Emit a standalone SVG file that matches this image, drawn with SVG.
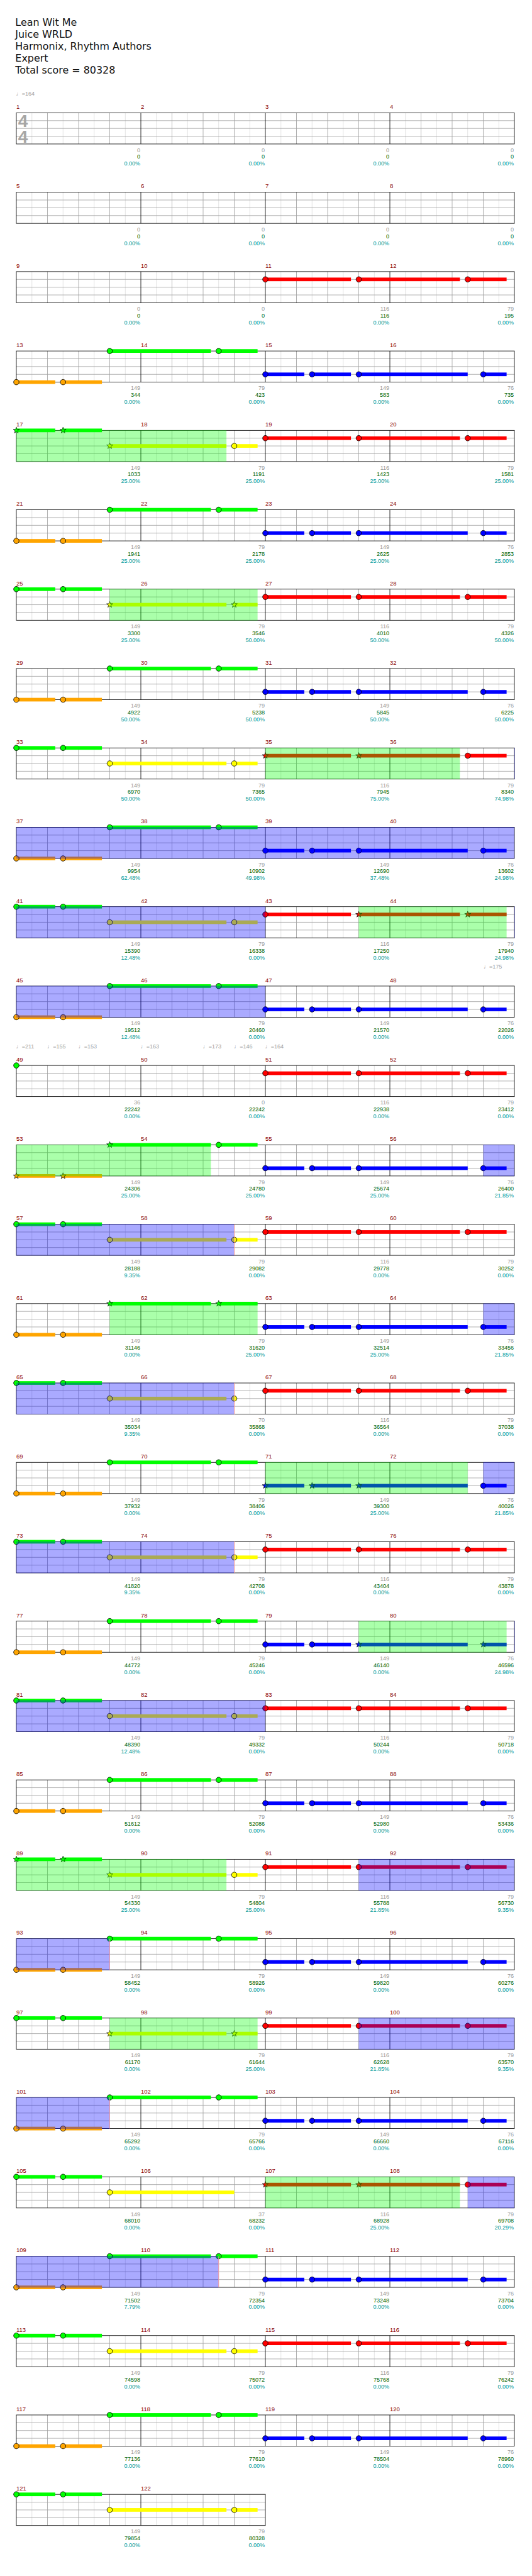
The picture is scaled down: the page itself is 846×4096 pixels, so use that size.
<svg xmlns="http://www.w3.org/2000/svg" width="846" height="4096" viewBox="0 0 846 4096">
<style>
.t{font-family:"DejaVu Sans",sans-serif;font-size:19.3px;fill:#111}
.mn{font-family:"Liberation Sans",Arial,sans-serif;font-size:11.5px;fill:#8b0000}
.n{font-family:"Liberation Sans",Arial,sans-serif;font-size:11px;text-anchor:end}
.g{fill:#999}.s{fill:#006400}.p{fill:#009999}
.tp{font-family:"Liberation Sans","DejaVu Sans",sans-serif;font-size:11px;fill:#a0a0a0}
.ts{font-family:"Liberation Sans",Arial,sans-serif;font-weight:bold;font-size:34px;fill:#a6a6a6}
.ho{fill:#0f0;opacity:.333}.bo{fill:#00f;opacity:.333}
.rl{stroke:#f99;stroke-width:1}
</style>
<defs>
<path id="st" d="M0-6.2L1.47-2.02 5.9-1.92 2.38.77 3.64 5.02 0 2.5-3.64 5.02-2.38.77-5.9-1.92-1.47-2.02Z" stroke="#000" stroke-width=".8"/>
<g id="g4" fill="none">
<path d="M30 0V60M90 0V60M150 0V60M210 0V60M270 0V60M330 0V60M390 0V60M450 0V60M510 0V60M570 0V60M630 0V60M690 0V60M750 0V60M810 0V60M870 0V60M930 0V60" stroke="#dcdcdc"/>
<path d="M0 15H960M0 30H960M0 45H960M60 0V60M120 0V60M180 0V60M300 0V60M360 0V60M420 0V60M540 0V60M600 0V60M660 0V60M780 0V60M840 0V60M900 0V60" stroke="#a0a0a0"/>
<path d="M240 0V60M480 0V60M720 0V60" stroke="#000"/>
<rect width="960" height="60" stroke="#000"/>
</g>
<g id="g2" fill="none">
<path d="M30 0V60M90 0V60M150 0V60M210 0V60M270 0V60M330 0V60M390 0V60M450 0V60" stroke="#dcdcdc"/>
<path d="M0 15H480M0 30H480M0 45H480M60 0V60M120 0V60M180 0V60M300 0V60M360 0V60M420 0V60" stroke="#a0a0a0"/>
<path d="M240 0V60" stroke="#000"/>
<rect width="480" height="60" stroke="#000"/>
</g>
<g id="p1b">
<rect x="0" y="56.5" width="75" height="7" fill="#ffa500"/><rect x="90" y="56.5" width="75" height="7" fill="#ffa500"/>
<rect x="180" y="-3.5" width="195" height="7" fill="#0f0"/><rect x="390" y="-3.5" width="75" height="7" fill="#0f0"/>
</g>
<g id="p1h" stroke="#000">
<circle cx="0" cy="60" r="5.2" fill="#ffa500"/><circle cx="90" cy="60" r="5.2" fill="#ffa500"/>
<circle cx="180" cy="0" r="5.2" fill="#0f0"/><circle cx="390" cy="0" r="5.2" fill="#0f0"/>
</g>
<g id="p2b">
<rect x="0" y="-3.5" width="75" height="7" fill="#0f0"/><rect x="90" y="-3.5" width="75" height="7" fill="#0f0"/>
<rect x="180" y="26.5" width="225" height="7" fill="#ff0"/><rect x="420" y="26.5" width="45" height="7" fill="#ff0"/>
</g>
<g id="p2h" stroke="#000">
<circle cx="0" cy="0" r="5.2" fill="#0f0"/><circle cx="90" cy="0" r="5.2" fill="#0f0"/>
<circle cx="180" cy="30" r="5.2" fill="#ff0"/><circle cx="420" cy="30" r="5.2" fill="#ff0"/>
</g>
<g id="q1b" fill="#f00">
<rect x="480" y="11.5" width="165" height="7"/><rect x="660" y="11.5" width="195" height="7"/><rect x="870" y="11.5" width="75" height="7"/>
</g>
<g id="q1h" stroke="#000" fill="#f00">
<circle cx="480" cy="15" r="5.2"/><circle cx="660" cy="15" r="5.2"/><circle cx="870" cy="15" r="5.2"/>
</g>
<g id="q2b" fill="#00f">
<rect x="480" y="41.5" width="75" height="7"/><rect x="570" y="41.5" width="75" height="7"/><rect x="660" y="41.5" width="210" height="7"/><rect x="900" y="41.5" width="45" height="7"/>
</g>
<g id="q2h" stroke="#000" fill="#00f">
<circle cx="480" cy="45" r="5.2"/><circle cx="570" cy="45" r="5.2"/><circle cx="660" cy="45" r="5.2"/><circle cx="900" cy="45" r="5.2"/>
</g>
</defs>
<rect width="846" height="4096" fill="#fff"/>
<g transform="scale(0.825)">
<g id="header">
<text class="t" x="29.5" y="49.3">Lean Wit Me</text>
<text class="t" x="29.5" y="72.4">Juice WRLD</text>
<text class="t" x="29.5" y="95.5">Harmonix, Rhythm Authors</text>
<text class="t" x="29.5" y="118.6">Expert</text>
<text class="t" x="29.5" y="141.7">Total score = 80328</text>
</g>
<g id="tempos" class="tp">
<text x="31" y="184">♩=164</text>
<text x="932" y="1867">♩=175</text>
<text x="31" y="2020">♩=211</text>
<text x="91" y="2020">♩=155</text>
<text x="151" y="2020">♩=153</text>
<text x="271" y="2020">♩=163</text>
<text x="391" y="2020">♩=173</text>
<text x="451" y="2020">♩=146</text>
<text x="511" y="2020">♩=164</text>
</g>
<g id="connectors"/>

<g id="row1" transform="translate(31.5 217.5)">
<use href="#g4"/>
<text class="ts" x="3.5" y="27.5">4</text><text class="ts" x="3.5" y="57.5">4</text>
<g class="mn"><text x="0" y="-7.5">1</text><text x="240" y="-7.5">2</text><text x="480" y="-7.5">3</text><text x="720" y="-7.5">4</text></g>
<g class="n g" transform="translate(0 75.5)"><text x="239">0</text><text x="479">0</text><text x="719">0</text><text x="959">0</text></g>
<g class="n s" transform="translate(0 88.5)"><text x="239">0</text><text x="479">0</text><text x="719">0</text><text x="959">0</text></g>
<g class="n p" transform="translate(0 101.8)"><text x="239">0.00%</text><text x="479">0.00%</text><text x="719">0.00%</text><text x="959">0.00%</text></g>
</g>

<g id="row5" transform="translate(31.5 370.5)">
<use href="#g4"/>
<g class="mn"><text x="0" y="-7.5">5</text><text x="240" y="-7.5">6</text><text x="480" y="-7.5">7</text><text x="720" y="-7.5">8</text></g>
<g class="n g" transform="translate(0 75.5)"><text x="239">0</text><text x="479">0</text><text x="719">0</text><text x="959">0</text></g>
<g class="n s" transform="translate(0 88.5)"><text x="239">0</text><text x="479">0</text><text x="719">0</text><text x="959">0</text></g>
<g class="n p" transform="translate(0 101.8)"><text x="239">0.00%</text><text x="479">0.00%</text><text x="719">0.00%</text><text x="959">0.00%</text></g>
</g>

<g id="row9" transform="translate(31.5 523.5)">
<use href="#g4"/><use href="#q1b"/><use href="#q1h"/>
<g class="mn"><text x="0" y="-7.5">9</text><text x="240" y="-7.5">10</text><text x="480" y="-7.5">11</text><text x="720" y="-7.5">12</text></g>
<g class="n g" transform="translate(0 75.5)"><text x="239">0</text><text x="479">0</text><text x="719">116</text><text x="959">79</text></g>
<g class="n s" transform="translate(0 88.5)"><text x="239">0</text><text x="479">0</text><text x="719">116</text><text x="959">195</text></g>
<g class="n p" transform="translate(0 101.8)"><text x="239">0.00%</text><text x="479">0.00%</text><text x="719">0.00%</text><text x="959">0.00%</text></g>
</g>

<g id="row13" transform="translate(31.5 676.5)">
<use href="#g4"/><use href="#p1b"/><use href="#p1h"/><use href="#q2b"/><use href="#q2h"/>
<g class="mn"><text x="0" y="-7.5">13</text><text x="240" y="-7.5">14</text><text x="480" y="-7.5">15</text><text x="720" y="-7.5">16</text></g>
<g class="n g" transform="translate(0 75.5)"><text x="239">149</text><text x="479">79</text><text x="719">149</text><text x="959">76</text></g>
<g class="n s" transform="translate(0 88.5)"><text x="239">344</text><text x="479">423</text><text x="719">583</text><text x="959">735</text></g>
<g class="n p" transform="translate(0 101.8)"><text x="239">0.00%</text><text x="479">0.00%</text><text x="719">0.00%</text><text x="959">0.00%</text></g>
</g>

<g id="row17" transform="translate(31.5 829.5)">
<use href="#g4"/><use href="#p2b"/>
<use href="#st" x="0" y="0" fill="#0f0"/><use href="#st" x="90" y="0" fill="#0f0"/><use href="#st" x="180" y="30" fill="#ff0"/><circle cx="420" cy="30" r="5.2" fill="#ff0" stroke="#000"/>
<use href="#q1b"/><use href="#q1h"/>
<rect class="ho" x="0" y="-.5" width="405" height="61"/>
<g class="mn"><text x="0" y="-7.5">17</text><text x="240" y="-7.5">18</text><text x="480" y="-7.5">19</text><text x="720" y="-7.5">20</text></g>
<g class="n g" transform="translate(0 75.5)"><text x="239">149</text><text x="479">79</text><text x="719">116</text><text x="959">79</text></g>
<g class="n s" transform="translate(0 88.5)"><text x="239">1033</text><text x="479">1191</text><text x="719">1423</text><text x="959">1581</text></g>
<g class="n p" transform="translate(0 101.8)"><text x="239">25.00%</text><text x="479">25.00%</text><text x="719">25.00%</text><text x="959">25.00%</text></g>
</g>

<g id="row21" transform="translate(31.5 982.5)">
<use href="#g4"/><use href="#p1b"/><use href="#p1h"/><use href="#q2b"/><use href="#q2h"/>
<g class="mn"><text x="0" y="-7.5">21</text><text x="240" y="-7.5">22</text><text x="480" y="-7.5">23</text><text x="720" y="-7.5">24</text></g>
<g class="n g" transform="translate(0 75.5)"><text x="239">149</text><text x="479">79</text><text x="719">149</text><text x="959">76</text></g>
<g class="n s" transform="translate(0 88.5)"><text x="239">1941</text><text x="479">2178</text><text x="719">2625</text><text x="959">2853</text></g>
<g class="n p" transform="translate(0 101.8)"><text x="239">25.00%</text><text x="479">25.00%</text><text x="719">25.00%</text><text x="959">25.00%</text></g>
</g>

<g id="row25" transform="translate(31.5 1135.5)">
<use href="#g4"/><use href="#p2b"/>
<circle cx="0" cy="0" r="5.2" fill="#0f0" stroke="#000"/><circle cx="90" cy="0" r="5.2" fill="#0f0" stroke="#000"/><use href="#st" x="180" y="30" fill="#ff0"/><use href="#st" x="420" y="30" fill="#ff0"/>
<use href="#q1b"/><use href="#q1h"/>
<rect class="ho" x="180" y="-.5" width="285" height="61"/>
<g class="mn"><text x="0" y="-7.5">25</text><text x="240" y="-7.5">26</text><text x="480" y="-7.5">27</text><text x="720" y="-7.5">28</text></g>
<g class="n g" transform="translate(0 75.5)"><text x="239">149</text><text x="479">79</text><text x="719">116</text><text x="959">79</text></g>
<g class="n s" transform="translate(0 88.5)"><text x="239">3300</text><text x="479">3546</text><text x="719">4010</text><text x="959">4326</text></g>
<g class="n p" transform="translate(0 101.8)"><text x="239">25.00%</text><text x="479">50.00%</text><text x="719">50.00%</text><text x="959">50.00%</text></g>
</g>

<g id="row29" transform="translate(31.5 1288.5)">
<use href="#g4"/><use href="#p1b"/><use href="#p1h"/><use href="#q2b"/><use href="#q2h"/>
<g class="mn"><text x="0" y="-7.5">29</text><text x="240" y="-7.5">30</text><text x="480" y="-7.5">31</text><text x="720" y="-7.5">32</text></g>
<g class="n g" transform="translate(0 75.5)"><text x="239">149</text><text x="479">79</text><text x="719">149</text><text x="959">76</text></g>
<g class="n s" transform="translate(0 88.5)"><text x="239">4922</text><text x="479">5238</text><text x="719">5845</text><text x="959">6225</text></g>
<g class="n p" transform="translate(0 101.8)"><text x="239">50.00%</text><text x="479">50.00%</text><text x="719">50.00%</text><text x="959">50.00%</text></g>
</g>

<g id="row33" transform="translate(31.5 1441.5)">
<use href="#g4"/><use href="#p2b"/><use href="#p2h"/><use href="#q1b"/>
<use href="#st" x="480" y="15" fill="#f00"/><use href="#st" x="660" y="15" fill="#f00"/><circle cx="870" cy="15" r="5.2" fill="#f00" stroke="#000"/>
<rect class="ho" x="480" y="-.5" width="375" height="61"/><rect class="bo" x="960" y="-.5" width="1" height="61"/>
<g class="mn"><text x="0" y="-7.5">33</text><text x="240" y="-7.5">34</text><text x="480" y="-7.5">35</text><text x="720" y="-7.5">36</text></g>
<g class="n g" transform="translate(0 75.5)"><text x="239">149</text><text x="479">79</text><text x="719">116</text><text x="959">79</text></g>
<g class="n s" transform="translate(0 88.5)"><text x="239">6970</text><text x="479">7365</text><text x="719">7945</text><text x="959">8340</text></g>
<g class="n p" transform="translate(0 101.8)"><text x="239">50.00%</text><text x="479">50.00%</text><text x="719">75.00%</text><text x="959">74.98%</text></g>
</g>

<g id="row37" transform="translate(31.5 1594.5)">
<use href="#g4"/><use href="#p1b"/><use href="#p1h"/><use href="#q2b"/><use href="#q2h"/>
<rect class="bo" x="0" y="-.5" width="960" height="61"/>
<g class="mn"><text x="0" y="-7.5">37</text><text x="240" y="-7.5">38</text><text x="480" y="-7.5">39</text><text x="720" y="-7.5">40</text></g>
<g class="n g" transform="translate(0 75.5)"><text x="239">149</text><text x="479">79</text><text x="719">149</text><text x="959">76</text></g>
<g class="n s" transform="translate(0 88.5)"><text x="239">9954</text><text x="479">10902</text><text x="719">12690</text><text x="959">13602</text></g>
<g class="n p" transform="translate(0 101.8)"><text x="239">62.48%</text><text x="479">49.98%</text><text x="719">37.48%</text><text x="959">24.98%</text></g>
</g>

<g id="row41" transform="translate(31.5 1747.5)">
<use href="#g4"/><use href="#p2b"/><use href="#p2h"/><use href="#q1b"/>
<circle cx="480" cy="15" r="5.2" fill="#f00" stroke="#000"/><use href="#st" x="660" y="15" fill="#f00"/><use href="#st" x="870" y="15" fill="#f00"/>
<rect class="bo" x="0" y="-.5" width="480" height="61"/><rect class="ho" x="660" y="-.5" width="285" height="61"/><rect class="bo" x="960" y="-.5" width="1" height="61"/>
<g class="mn"><text x="0" y="-7.5">41</text><text x="240" y="-7.5">42</text><text x="480" y="-7.5">43</text><text x="720" y="-7.5">44</text></g>
<g class="n g" transform="translate(0 75.5)"><text x="239">149</text><text x="479">79</text><text x="719">116</text><text x="959">79</text></g>
<g class="n s" transform="translate(0 88.5)"><text x="239">15390</text><text x="479">16338</text><text x="719">17250</text><text x="959">17940</text></g>
<g class="n p" transform="translate(0 101.8)"><text x="239">12.48%</text><text x="479">0.00%</text><text x="719">0.00%</text><text x="959">24.98%</text></g>
</g>

<g id="row45" transform="translate(31.5 1900.5)">
<use href="#g4"/><use href="#p1b"/><use href="#p1h"/><use href="#q2b"/><use href="#q2h"/>
<rect class="bo" x="0" y="-.5" width="480" height="61"/>
<g class="mn"><text x="0" y="-7.5">45</text><text x="240" y="-7.5">46</text><text x="480" y="-7.5">47</text><text x="720" y="-7.5">48</text></g>
<g class="n g" transform="translate(0 75.5)"><text x="239">149</text><text x="479">79</text><text x="719">149</text><text x="959">76</text></g>
<g class="n s" transform="translate(0 88.5)"><text x="239">19512</text><text x="479">20460</text><text x="719">21570</text><text x="959">22026</text></g>
<g class="n p" transform="translate(0 101.8)"><text x="239">12.48%</text><text x="479">0.00%</text><text x="719">0.00%</text><text x="959">0.00%</text></g>
</g>

<g id="row49" transform="translate(31.5 2053.5)">
<use href="#g4"/><circle cx="0" cy="0" r="5.2" fill="#0f0" stroke="#000"/><use href="#q1b"/><use href="#q1h"/>
<g class="mn"><text x="0" y="-7.5">49</text><text x="240" y="-7.5">50</text><text x="480" y="-7.5">51</text><text x="720" y="-7.5">52</text></g>
<g class="n g" transform="translate(0 75.5)"><text x="239">36</text><text x="479">0</text><text x="719">116</text><text x="959">79</text></g>
<g class="n s" transform="translate(0 88.5)"><text x="239">22242</text><text x="479">22242</text><text x="719">22938</text><text x="959">23412</text></g>
<g class="n p" transform="translate(0 101.8)"><text x="239">0.00%</text><text x="479">0.00%</text><text x="719">0.00%</text><text x="959">0.00%</text></g>
</g>

<g id="row53" transform="translate(31.5 2206.5)">
<use href="#g4"/><use href="#p1b"/>
<use href="#st" x="0" y="60" fill="#ffa500"/><use href="#st" x="90" y="60" fill="#ffa500"/><use href="#st" x="180" y="0" fill="#0f0"/><circle cx="390" cy="0" r="5.2" fill="#0f0" stroke="#000"/>
<use href="#q2b"/><use href="#q2h"/>
<rect class="ho" x="0" y="-.5" width="375" height="61"/><rect class="bo" x="900" y="-.5" width="60" height="61"/>
<g class="mn"><text x="0" y="-7.5">53</text><text x="240" y="-7.5">54</text><text x="480" y="-7.5">55</text><text x="720" y="-7.5">56</text></g>
<g class="n g" transform="translate(0 75.5)"><text x="239">149</text><text x="479">79</text><text x="719">149</text><text x="959">76</text></g>
<g class="n s" transform="translate(0 88.5)"><text x="239">24306</text><text x="479">24780</text><text x="719">25674</text><text x="959">26400</text></g>
<g class="n p" transform="translate(0 101.8)"><text x="239">25.00%</text><text x="479">25.00%</text><text x="719">25.00%</text><text x="959">21.85%</text></g>
</g>

<g id="row57" transform="translate(31.5 2359.5)">
<use href="#g4"/><use href="#p2b"/><use href="#p2h"/><use href="#q1b"/><use href="#q1h"/>
<rect class="bo" x="0" y="-.5" width="420" height="61"/><path class="rl" d="M420 0V60"/>
<g class="mn"><text x="0" y="-7.5">57</text><text x="240" y="-7.5">58</text><text x="480" y="-7.5">59</text><text x="720" y="-7.5">60</text></g>
<g class="n g" transform="translate(0 75.5)"><text x="239">149</text><text x="479">79</text><text x="719">116</text><text x="959">79</text></g>
<g class="n s" transform="translate(0 88.5)"><text x="239">28188</text><text x="479">29082</text><text x="719">29778</text><text x="959">30252</text></g>
<g class="n p" transform="translate(0 101.8)"><text x="239">9.35%</text><text x="479">0.00%</text><text x="719">0.00%</text><text x="959">0.00%</text></g>
</g>

<g id="row61" transform="translate(31.5 2512.5)">
<use href="#g4"/><use href="#p1b"/>
<circle cx="0" cy="60" r="5.2" fill="#ffa500" stroke="#000"/><circle cx="90" cy="60" r="5.2" fill="#ffa500" stroke="#000"/><use href="#st" x="180" y="0" fill="#0f0"/><use href="#st" x="390" y="0" fill="#0f0"/>
<use href="#q2b"/><use href="#q2h"/>
<rect class="ho" x="180" y="-.5" width="285" height="61"/><rect class="bo" x="900" y="-.5" width="60" height="61"/>
<g class="mn"><text x="0" y="-7.5">61</text><text x="240" y="-7.5">62</text><text x="480" y="-7.5">63</text><text x="720" y="-7.5">64</text></g>
<g class="n g" transform="translate(0 75.5)"><text x="239">149</text><text x="479">79</text><text x="719">149</text><text x="959">76</text></g>
<g class="n s" transform="translate(0 88.5)"><text x="239">31146</text><text x="479">31620</text><text x="719">32514</text><text x="959">33456</text></g>
<g class="n p" transform="translate(0 101.8)"><text x="239">0.00%</text><text x="479">25.00%</text><text x="719">25.00%</text><text x="959">21.85%</text></g>
</g>

<g id="row65" transform="translate(31.5 2665.5)">
<use href="#g4"/>
<rect x="0" y="-3.5" width="75" height="7" fill="#0f0"/><rect x="90" y="-3.5" width="75" height="7" fill="#0f0"/><rect x="180" y="26.5" width="225" height="7" fill="#ff0"/>
<use href="#p2h"/><use href="#q1b"/><use href="#q1h"/>
<rect class="bo" x="0" y="-.5" width="420" height="61"/><path class="rl" d="M420 0V60"/>
<g class="mn"><text x="0" y="-7.5">65</text><text x="240" y="-7.5">66</text><text x="480" y="-7.5">67</text><text x="720" y="-7.5">68</text></g>
<g class="n g" transform="translate(0 75.5)"><text x="239">149</text><text x="479">70</text><text x="719">116</text><text x="959">79</text></g>
<g class="n s" transform="translate(0 88.5)"><text x="239">35034</text><text x="479">35868</text><text x="719">36564</text><text x="959">37038</text></g>
<g class="n p" transform="translate(0 101.8)"><text x="239">9.35%</text><text x="479">0.00%</text><text x="719">0.00%</text><text x="959">0.00%</text></g>
</g>

<g id="row69" transform="translate(31.5 2818.5)">
<use href="#g4"/><use href="#p1b"/><use href="#p1h"/><use href="#q2b"/>
<use href="#st" x="480" y="45" fill="#00f"/><use href="#st" x="570" y="45" fill="#00f"/><use href="#st" x="660" y="45" fill="#00f"/><circle cx="900" cy="45" r="5.2" fill="#00f" stroke="#000"/>
<rect class="ho" x="480" y="-.5" width="390" height="61"/><rect class="bo" x="900" y="-.5" width="60" height="61"/>
<g class="mn"><text x="0" y="-7.5">69</text><text x="240" y="-7.5">70</text><text x="480" y="-7.5">71</text><text x="720" y="-7.5">72</text></g>
<g class="n g" transform="translate(0 75.5)"><text x="239">149</text><text x="479">79</text><text x="719">149</text><text x="959">76</text></g>
<g class="n s" transform="translate(0 88.5)"><text x="239">37932</text><text x="479">38406</text><text x="719">39300</text><text x="959">40026</text></g>
<g class="n p" transform="translate(0 101.8)"><text x="239">0.00%</text><text x="479">0.00%</text><text x="719">25.00%</text><text x="959">21.85%</text></g>
</g>

<g id="row73" transform="translate(31.5 2971.5)">
<use href="#g4"/><use href="#p2b"/><use href="#p2h"/><use href="#q1b"/><use href="#q1h"/>
<rect class="bo" x="0" y="-.5" width="420" height="61"/><path class="rl" d="M420 0V60"/>
<g class="mn"><text x="0" y="-7.5">73</text><text x="240" y="-7.5">74</text><text x="480" y="-7.5">75</text><text x="720" y="-7.5">76</text></g>
<g class="n g" transform="translate(0 75.5)"><text x="239">149</text><text x="479">79</text><text x="719">116</text><text x="959">79</text></g>
<g class="n s" transform="translate(0 88.5)"><text x="239">41820</text><text x="479">42708</text><text x="719">43404</text><text x="959">43878</text></g>
<g class="n p" transform="translate(0 101.8)"><text x="239">9.35%</text><text x="479">0.00%</text><text x="719">0.00%</text><text x="959">0.00%</text></g>
</g>

<g id="row77" transform="translate(31.5 3124.5)">
<use href="#g4"/><use href="#p1b"/><use href="#p1h"/><use href="#q2b"/>
<circle cx="480" cy="45" r="5.2" fill="#00f" stroke="#000"/><circle cx="570" cy="45" r="5.2" fill="#00f" stroke="#000"/><use href="#st" x="660" y="45" fill="#00f"/><use href="#st" x="900" y="45" fill="#00f"/>
<rect class="ho" x="660" y="-.5" width="285" height="61"/><rect class="bo" x="960" y="-.5" width="1" height="61"/>
<g class="mn"><text x="0" y="-7.5">77</text><text x="240" y="-7.5">78</text><text x="480" y="-7.5">79</text><text x="720" y="-7.5">80</text></g>
<g class="n g" transform="translate(0 75.5)"><text x="239">149</text><text x="479">79</text><text x="719">149</text><text x="959">76</text></g>
<g class="n s" transform="translate(0 88.5)"><text x="239">44772</text><text x="479">45246</text><text x="719">46140</text><text x="959">46596</text></g>
<g class="n p" transform="translate(0 101.8)"><text x="239">0.00%</text><text x="479">0.00%</text><text x="719">0.00%</text><text x="959">24.98%</text></g>
</g>

<g id="row81" transform="translate(31.5 3277.5)">
<use href="#g4"/><use href="#p2b"/><use href="#p2h"/><use href="#q1b"/><use href="#q1h"/>
<rect class="bo" x="0" y="-.5" width="480" height="61"/>
<g class="mn"><text x="0" y="-7.5">81</text><text x="240" y="-7.5">82</text><text x="480" y="-7.5">83</text><text x="720" y="-7.5">84</text></g>
<g class="n g" transform="translate(0 75.5)"><text x="239">149</text><text x="479">79</text><text x="719">116</text><text x="959">79</text></g>
<g class="n s" transform="translate(0 88.5)"><text x="239">48390</text><text x="479">49332</text><text x="719">50244</text><text x="959">50718</text></g>
<g class="n p" transform="translate(0 101.8)"><text x="239">12.48%</text><text x="479">0.00%</text><text x="719">0.00%</text><text x="959">0.00%</text></g>
</g>

<g id="row85" transform="translate(31.5 3430.5)">
<use href="#g4"/><use href="#p1b"/><use href="#p1h"/><use href="#q2b"/><use href="#q2h"/>
<g class="mn"><text x="0" y="-7.5">85</text><text x="240" y="-7.5">86</text><text x="480" y="-7.5">87</text><text x="720" y="-7.5">88</text></g>
<g class="n g" transform="translate(0 75.5)"><text x="239">149</text><text x="479">79</text><text x="719">149</text><text x="959">76</text></g>
<g class="n s" transform="translate(0 88.5)"><text x="239">51612</text><text x="479">52086</text><text x="719">52980</text><text x="959">53436</text></g>
<g class="n p" transform="translate(0 101.8)"><text x="239">0.00%</text><text x="479">0.00%</text><text x="719">0.00%</text><text x="959">0.00%</text></g>
</g>

<g id="row89" transform="translate(31.5 3583.5)">
<use href="#g4"/><use href="#p2b"/>
<use href="#st" x="0" y="0" fill="#0f0"/><use href="#st" x="90" y="0" fill="#0f0"/><use href="#st" x="180" y="30" fill="#ff0"/><circle cx="420" cy="30" r="5.2" fill="#ff0" stroke="#000"/>
<use href="#q1b"/><use href="#q1h"/>
<rect class="ho" x="0" y="-.5" width="405" height="61"/><rect class="bo" x="660" y="-.5" width="300" height="61"/>
<g class="mn"><text x="0" y="-7.5">89</text><text x="240" y="-7.5">90</text><text x="480" y="-7.5">91</text><text x="720" y="-7.5">92</text></g>
<g class="n g" transform="translate(0 75.5)"><text x="239">149</text><text x="479">79</text><text x="719">116</text><text x="959">79</text></g>
<g class="n s" transform="translate(0 88.5)"><text x="239">54330</text><text x="479">54804</text><text x="719">55788</text><text x="959">56730</text></g>
<g class="n p" transform="translate(0 101.8)"><text x="239">25.00%</text><text x="479">25.00%</text><text x="719">21.85%</text><text x="959">9.35%</text></g>
</g>

<g id="row93" transform="translate(31.5 3736.5)">
<use href="#g4"/><use href="#p1b"/><use href="#p1h"/><use href="#q2b"/><use href="#q2h"/>
<rect class="bo" x="0" y="-.5" width="180" height="61"/><path class="rl" d="M180 0V60"/>
<g class="mn"><text x="0" y="-7.5">93</text><text x="240" y="-7.5">94</text><text x="480" y="-7.5">95</text><text x="720" y="-7.5">96</text></g>
<g class="n g" transform="translate(0 75.5)"><text x="239">149</text><text x="479">79</text><text x="719">149</text><text x="959">76</text></g>
<g class="n s" transform="translate(0 88.5)"><text x="239">58452</text><text x="479">58926</text><text x="719">59820</text><text x="959">60276</text></g>
<g class="n p" transform="translate(0 101.8)"><text x="239">0.00%</text><text x="479">0.00%</text><text x="719">0.00%</text><text x="959">0.00%</text></g>
</g>

<g id="row97" transform="translate(31.5 3889.5)">
<use href="#g4"/><use href="#p2b"/>
<circle cx="0" cy="0" r="5.2" fill="#0f0" stroke="#000"/><circle cx="90" cy="0" r="5.2" fill="#0f0" stroke="#000"/><use href="#st" x="180" y="30" fill="#ff0"/><use href="#st" x="420" y="30" fill="#ff0"/>
<use href="#q1b"/><use href="#q1h"/>
<rect class="ho" x="180" y="-.5" width="285" height="61"/><rect class="bo" x="660" y="-.5" width="300" height="61"/>
<g class="mn"><text x="0" y="-7.5">97</text><text x="240" y="-7.5">98</text><text x="480" y="-7.5">99</text><text x="720" y="-7.5">100</text></g>
<g class="n g" transform="translate(0 75.5)"><text x="239">149</text><text x="479">79</text><text x="719">116</text><text x="959">79</text></g>
<g class="n s" transform="translate(0 88.5)"><text x="239">61170</text><text x="479">61644</text><text x="719">62628</text><text x="959">63570</text></g>
<g class="n p" transform="translate(0 101.8)"><text x="239">0.00%</text><text x="479">25.00%</text><text x="719">21.85%</text><text x="959">9.35%</text></g>
</g>

<g id="row101" transform="translate(31.5 4042.5)">
<use href="#g4"/><use href="#p1b"/><use href="#p1h"/><use href="#q2b"/><use href="#q2h"/>
<rect class="bo" x="0" y="-.5" width="180" height="61"/><path class="rl" d="M180 0V60"/>
<g class="mn"><text x="0" y="-7.5">101</text><text x="240" y="-7.5">102</text><text x="480" y="-7.5">103</text><text x="720" y="-7.5">104</text></g>
<g class="n g" transform="translate(0 75.5)"><text x="239">149</text><text x="479">79</text><text x="719">149</text><text x="959">76</text></g>
<g class="n s" transform="translate(0 88.5)"><text x="239">65292</text><text x="479">65766</text><text x="719">66660</text><text x="959">67116</text></g>
<g class="n p" transform="translate(0 101.8)"><text x="239">0.00%</text><text x="479">0.00%</text><text x="719">0.00%</text><text x="959">0.00%</text></g>
</g>

<g id="row105" transform="translate(31.5 4195.5)">
<use href="#g4"/>
<rect x="0" y="-3.5" width="75" height="7" fill="#0f0"/><rect x="90" y="-3.5" width="75" height="7" fill="#0f0"/><rect x="180" y="26.5" width="240" height="7" fill="#ff0"/>
<g stroke="#000"><circle cx="0" cy="0" r="5.2" fill="#0f0"/><circle cx="90" cy="0" r="5.2" fill="#0f0"/><circle cx="180" cy="30" r="5.2" fill="#ff0"/></g>
<use href="#q1b"/>
<use href="#st" x="480" y="15" fill="#f00"/><use href="#st" x="660" y="15" fill="#f00"/><circle cx="870" cy="15" r="5.2" fill="#f00" stroke="#000"/>
<rect class="ho" x="480" y="-.5" width="375" height="61"/><rect class="bo" x="870" y="-.5" width="90" height="61"/>
<g class="mn"><text x="0" y="-7.5">105</text><text x="240" y="-7.5">106</text><text x="480" y="-7.5">107</text><text x="720" y="-7.5">108</text></g>
<g class="n g" transform="translate(0 75.5)"><text x="239">149</text><text x="479">37</text><text x="719">116</text><text x="959">79</text></g>
<g class="n s" transform="translate(0 88.5)"><text x="239">68010</text><text x="479">68232</text><text x="719">68928</text><text x="959">69708</text></g>
<g class="n p" transform="translate(0 101.8)"><text x="239">0.00%</text><text x="479">0.00%</text><text x="719">25.00%</text><text x="959">20.29%</text></g>
</g>

<g id="row109" transform="translate(31.5 4348.5)">
<use href="#g4"/><use href="#p1b"/><use href="#p1h"/><use href="#q2b"/><use href="#q2h"/>
<rect class="bo" x="0" y="-.5" width="390" height="61"/><path class="rl" d="M390 0V60"/>
<g class="mn"><text x="0" y="-7.5">109</text><text x="240" y="-7.5">110</text><text x="480" y="-7.5">111</text><text x="720" y="-7.5">112</text></g>
<g class="n g" transform="translate(0 75.5)"><text x="239">149</text><text x="479">79</text><text x="719">149</text><text x="959">76</text></g>
<g class="n s" transform="translate(0 88.5)"><text x="239">71502</text><text x="479">72354</text><text x="719">73248</text><text x="959">73704</text></g>
<g class="n p" transform="translate(0 101.8)"><text x="239">7.79%</text><text x="479">0.00%</text><text x="719">0.00%</text><text x="959">0.00%</text></g>
</g>

<g id="row113" transform="translate(31.5 4501.5)">
<use href="#g4"/><use href="#p2b"/><use href="#p2h"/><use href="#q1b"/><use href="#q1h"/>
<g class="mn"><text x="0" y="-7.5">113</text><text x="240" y="-7.5">114</text><text x="480" y="-7.5">115</text><text x="720" y="-7.5">116</text></g>
<g class="n g" transform="translate(0 75.5)"><text x="239">149</text><text x="479">79</text><text x="719">116</text><text x="959">79</text></g>
<g class="n s" transform="translate(0 88.5)"><text x="239">74598</text><text x="479">75072</text><text x="719">75768</text><text x="959">76242</text></g>
<g class="n p" transform="translate(0 101.8)"><text x="239">0.00%</text><text x="479">0.00%</text><text x="719">0.00%</text><text x="959">0.00%</text></g>
</g>

<g id="row117" transform="translate(31.5 4654.5)">
<use href="#g4"/><use href="#p1b"/><use href="#p1h"/><use href="#q2b"/><use href="#q2h"/>
<g class="mn"><text x="0" y="-7.5">117</text><text x="240" y="-7.5">118</text><text x="480" y="-7.5">119</text><text x="720" y="-7.5">120</text></g>
<g class="n g" transform="translate(0 75.5)"><text x="239">149</text><text x="479">79</text><text x="719">149</text><text x="959">76</text></g>
<g class="n s" transform="translate(0 88.5)"><text x="239">77136</text><text x="479">77610</text><text x="719">78504</text><text x="959">78960</text></g>
<g class="n p" transform="translate(0 101.8)"><text x="239">0.00%</text><text x="479">0.00%</text><text x="719">0.00%</text><text x="959">0.00%</text></g>
</g>

<g id="row121" transform="translate(31.5 4807.5)">
<use href="#g2"/><use href="#p2b"/><use href="#p2h"/>
<g class="mn"><text x="0" y="-7.5">121</text><text x="240" y="-7.5">122</text></g>
<g class="n g" transform="translate(0 75.5)"><text x="239">149</text><text x="479">79</text></g>
<g class="n s" transform="translate(0 88.5)"><text x="239">79854</text><text x="479">80328</text></g>
<g class="n p" transform="translate(0 101.8)"><text x="239">0.00%</text><text x="479">0.00%</text></g>
</g>
</g>
</svg>
